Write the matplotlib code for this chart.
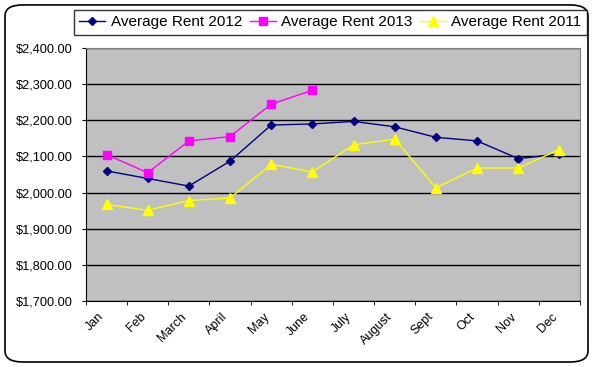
import matplotlib.pyplot as plt
import matplotlib.transforms as mtransforms
from matplotlib.patches import FancyBboxPatch
from matplotlib.ticker import FuncFormatter, FixedLocator

plt.rcParams['font.family'] = ['Liberation Sans', 'DejaVu Sans']

months = ['Jan', 'Feb', 'March', 'April', 'May', 'June', 'July',
          'August', 'Sept', 'Oct', 'Nov', 'Dec']
rent_2012 = [2060, 2039, 2018, 2087, 2187, 2190, 2197, 2182, 2153, 2143, 2094, 2107]
rent_2013 = [2105, 2055, 2143, 2155, 2245, 2283]
rent_2011 = [1967, 1951, 1978, 1985, 2078, 2057, 2132, 2148, 2013, 2068, 2068, 2119]

fig = plt.figure(figsize=(5.97, 3.67), dpi=100)

# rounded outer border, kept behind the axes
border = FancyBboxPatch((0.0084, 0.0136), 0.9765, 0.973, transform=fig.transFigure,
                        boxstyle="round,pad=0,rounding_size=0.03",
                        facecolor='white', edgecolor='black', linewidth=1.2,
                        zorder=-5)
fig.patches.append(border)

ax = fig.add_axes([0.144, 0.18, 0.8275, 0.689])
ax.set_facecolor('#c0c0c0')

x = list(range(len(months)))
ax.plot(x, rent_2012, color='#000080', marker='D', markersize=4.5, linewidth=1,
        label='Average Rent 2012')
ax.plot(x[:len(rent_2013)], rent_2013, color='#ff00ff', marker='s', markersize=5.5,
        linewidth=1, label='Average Rent 2013')
ax.plot(x, rent_2011, color='#ffff00', marker='^', markersize=6.5, linewidth=1,
        label='Average Rent 2011')

ax.set_xlim(-0.5, 11.5)
ax.set_ylim(1700, 2400)
ax.set_yticks(range(1700, 2401, 100))
ax.yaxis.set_major_formatter(FuncFormatter(lambda v, p: '${:,.2f}'.format(v)))
ax.grid(axis='y', color='black', linewidth=1)
ax.set_axisbelow(True)

ax.set_xticks(x)
ax.set_xticklabels(months, rotation=45, ha='right', rotation_mode='anchor')
ax.xaxis.set_minor_locator(FixedLocator([i - 0.5 for i in range(13)]))
ax.tick_params(axis='x', which='major', length=0, pad=7, labelsize=9)
ax.tick_params(axis='x', which='minor', length=3, direction='out')
ax.tick_params(axis='y', length=3, direction='out', labelsize=9.2, pad=6.5)

# nudge month labels a little to the left, as in the original
shift = mtransforms.ScaledTranslation(-6 / 72, 0, fig.dpi_scale_trans)
for lbl in ax.get_xticklabels():
    lbl.set_transform(lbl.get_transform() + shift)

for side in ['top', 'right']:
    ax.spines[side].set_color('#808080')
for side in ['left', 'bottom']:
    ax.spines[side].set_color('black')

leg = fig.legend(loc='upper right', bbox_to_anchor=(0.983, 0.973), ncol=3,
                 fontsize=11, frameon=True, fancybox=False, handlelength=1.7,
                 handletextpad=0.35, columnspacing=0.5, borderpad=0.35,
                 borderaxespad=0)
leg.get_frame().set_edgecolor('black')
leg.get_frame().set_linewidth(1)

plt.savefig('out.png', dpi=100)
